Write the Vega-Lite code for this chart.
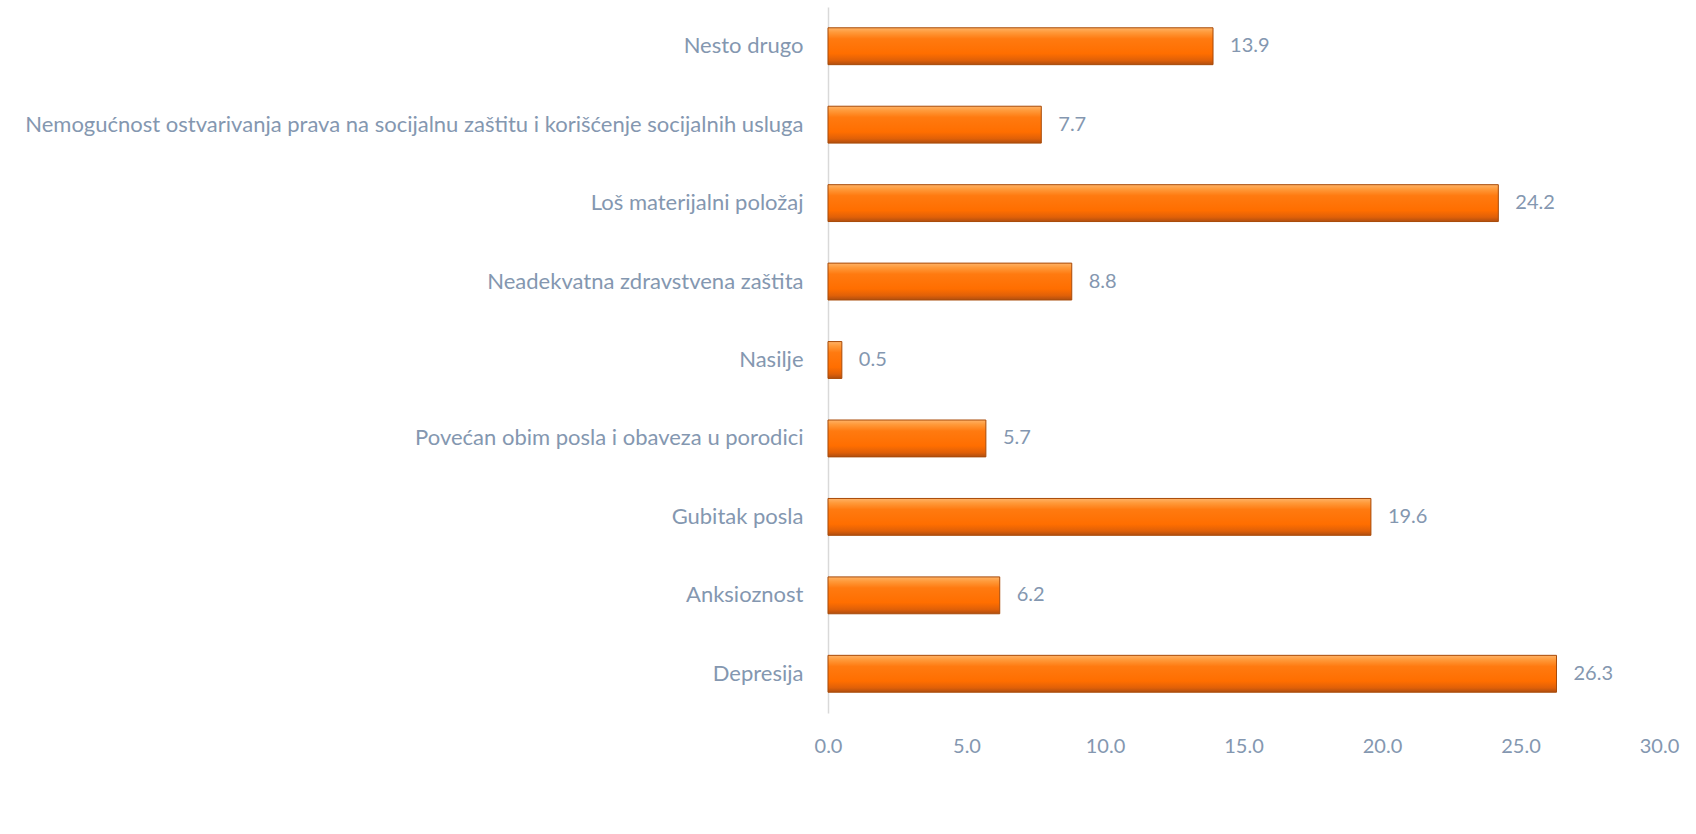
{
  "$schema": "https://vega.github.io/schema/vega-lite/v6.json",
  "autosize": {"type": "none"},
  "padding": {"left": 828, "top": 7, "right": 37, "bottom": 121},
  "width": 831,
  "height": 706,
  "background": "#ffffff",
  "config": {"view": {"stroke": null}, "font": "Lato"},
  "data": {"values": [
    {"kategorija": "Nesto drugo", "procenat": 13.9},
    {"kategorija": "Nemogućnost ostvarivanja prava na socijalnu zaštitu i korišćenje socijalnih usluga", "procenat": 7.7},
    {"kategorija": "Loš materijalni položaj", "procenat": 24.2},
    {"kategorija": "Neadekvatna zdravstvena zaštita", "procenat": 8.8},
    {"kategorija": "Nasilje", "procenat": 0.5},
    {"kategorija": "Povećan obim posla i obaveza u porodici", "procenat": 5.7},
    {"kategorija": "Gubitak posla", "procenat": 19.6},
    {"kategorija": "Anksioznost", "procenat": 6.2},
    {"kategorija": "Depresija", "procenat": 26.3}
  ]},
  "encoding": {
    "y": {"field": "kategorija", "type": "nominal", "sort": null,
      "scale": {"paddingInner": 0.53, "paddingOuter": 0.265},
      "axis": {"title": null, "ticks": false, "domainColor": "#D9D9D9", "domainWidth": 1.5,
        "labelColor": "#8497B0", "labelFontSize": 22, "labelPadding": 25, "labelLimit": 900, "labelFont": "Lato"}},
    "x": {"field": "procenat", "type": "quantitative",
      "scale": {"domain": [0, 30], "nice": false},
      "axis": {"title": null, "values": [0, 5, 10, 15, 20, 25, 30], "format": ".1f", "grid": false, "domain": false, "ticks": false,
        "labelColor": "#8497B0", "labelFontSize": 20, "labelPadding": 23, "labelFont": "Lato", "labelFlush": false}}
  },
  "layer": [
    {"mark": {"type": "bar", "cornerRadius": 0, "stroke": "#A84A08", "strokeWidth": 1,
      "color": {"gradient": "linear", "x1": 0, "y1": 0, "x2": 0, "y2": 1,
        "stops": [
          {"offset": 0, "color": "#FFB266"},
          {"offset": 0.12, "color": "#FF9A3A"},
          {"offset": 0.3, "color": "#FF7A10"},
          {"offset": 0.7, "color": "#FF6E00"},
          {"offset": 0.88, "color": "#E06008"},
          {"offset": 1, "color": "#B04E10"}
        ]}}},
    {"mark": {"type": "text", "align": "left", "baseline": "middle", "dx": 17, "fontSize": 20, "color": "#8497B0", "font": "Lato"},
      "encoding": {"text": {"field": "procenat", "type": "quantitative", "format": ".1f"}}}
  ]
}
